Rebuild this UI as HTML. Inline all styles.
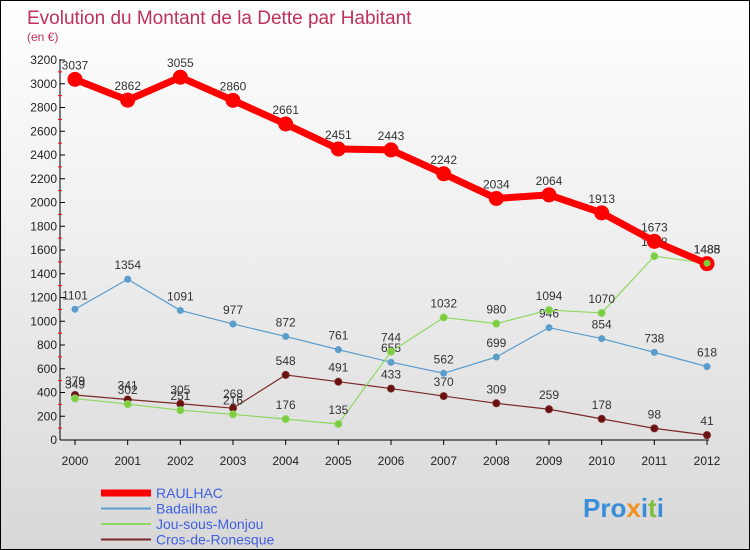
<!DOCTYPE html>
<html><head><meta charset="utf-8"><style>
body{margin:0;}
#c{width:748px;height:548px;border:1px solid #000;background:linear-gradient(#fff 0%,#f0f0f0 40%,#d8d8d8 100%);position:relative;overflow:hidden;font-family:"Liberation Sans",sans-serif;}
svg text{font-family:"Liberation Sans",sans-serif;}
</style></head><body>
<div id="c">
<svg id="s" width="748" height="548"></svg>
</div>
<script>
const years=["2000","2001","2002","2003","2004","2005","2006","2007","2008","2009","2010","2011","2012"];
const yTicks=[0,200,400,600,800,1000,1200,1400,1600,1800,2000,2200,2400,2600,2800,3000,3200];
const raulhac=[3037,2862,3055,2860,2661,2451,2443,2242,2034,2064,1913,1673,1485];
const badailhac=[1101,1354,1091,977,872,761,655,562,699,946,854,738,618];
const jou=[349,302,251,216,176,135,744,1032,980,1094,1070,1548,1488];
const cros=[379,341,305,268,548,491,433,370,309,259,178,98,41];
const seriesNames=["RAULHAC","Badailhac","Jou-sous-Monjou","Cros-de-Ronesque"];
const NS="http://www.w3.org/2000/svg";
const s=document.getElementById('s');
function X(i){return 74+i*(632/(years.length-1));}
function Y(v){return 439-v*380/3200;}
function el(t,a,txt,p){const e=document.createElementNS(NS,t);for(const k in a)e.setAttribute(k,a[k]);if(txt!==undefined)e.textContent=txt;(p||s).appendChild(e);return e;}
let t=el('text',{x:26,y:23,'font-size':19,fill:'#c0305a'},'Evolution du Montant de la Dette par Habitant');

t=el('text',{x:26,y:40,'font-size':12,fill:'#c0305a'},'(en €)');

let ax=el('line',{x1:59,y1:58,x2:59,y2:439,stroke:'#000'});

ax=el('line',{x1:59,y1:439,x2:708,y2:439,stroke:'#000'});

yTicks.forEach(v=>{
 el('line',{x1:59,y1:Y(v),x2:64,y2:Y(v),stroke:'#000'});
 if(v<3200){el('line',{x1:57,y1:Y(v+100),x2:61,y2:Y(v+100),stroke:'#f00'});}
 let l=el('text',{x:56,y:Y(v)+4,'font-size':12,fill:'#222','text-anchor':'end'},v);
 
});
years.forEach((y,i)=>{
 el('line',{x1:X(i),y1:439,x2:X(i),y2:444,stroke:'#000'});
 let l=el('text',{x:X(i),y:464,'font-size':12,fill:'#222','text-anchor':'middle'},y);
 
});
function series(data,color,dot,w,r,name){
 let p=el('polyline',{points:data.map((v,i)=>X(i)+','+Y(v)).join(' '),fill:'none',stroke:color,'stroke-width':w,'stroke-linejoin':'round'});
 
 data.forEach((v,i)=>{
  let c=el('circle',{cx:X(i),cy:Y(v),r:r,fill:dot,stroke:color,'stroke-width':1});
  
  let l=el('text',{x:X(i),y:Y(v)-10,'font-size':12,fill:'#333','text-anchor':'middle'},v);
  
 });
}
series(badailhac,'#5a9ccc','#5a9ccc',1.2,3,'badailhac');
series(cros,'#7a2828','#6a1010',1.2,3.5,'cros-de-ronesque');
series(jou,'#8ed860','#7ccc40',1.2,3.5,'jou-sous-monjou');
series(raulhac,'#f00','#f00',7,7,'raulhac');
el('circle',{cx:X(12),cy:Y(jou[12]),r:3.5,fill:'#7ccc40'});
const lc=['#f00','#5a9ccc','#8ed860','#7a2828'],lw=[7,2,2,2];
seriesNames.forEach((n,i)=>{
 let y=492+i*15.5;
 let l=el('line',{x1:100,y1:y,x2:150,y2:y,stroke:lc[i],'stroke-width':lw[i]});
 
 let tx=el('text',{x:155,y:y+5,'font-size':14,fill:'#4060e0'},n);
 
});
let lg=el('text',{x:582,y:516,'font-size':26,'font-weight':'bold',fill:'#3a8ed8'});

el('tspan',{},'Pro',lg);el('tspan',{fill:'#f09020'},'x',lg);el('tspan',{fill:'#3a8ed8'},'i',lg);el('tspan',{fill:'#80c040'},'t',lg);el('tspan',{fill:'#3a8ed8'},'i',lg);
</script>
</body></html>
